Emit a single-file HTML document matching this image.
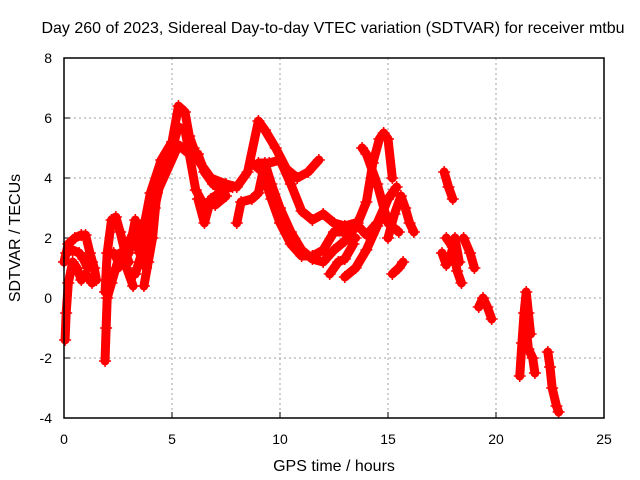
<!DOCTYPE html>
<html><head><meta charset="utf-8"><style>
body{margin:0;background:#fff;}
svg{display:block;font-family:"Liberation Sans",sans-serif;}
</style></head><body>
<svg id="chart" width="640" height="480" viewBox="0 0 640 480">
<text x="333" y="33" font-size="16" text-anchor="middle">Day 260 of 2023, Sidereal Day-to-day VTEC variation (SDTVAR) for receiver mtbu</text>
<text x="334" y="471" font-size="16" text-anchor="middle">GPS time / hours</text>
<text transform="translate(20,238) rotate(-90)" font-size="16" text-anchor="middle">SDTVAR / TECUs</text>
<g id="grid"></g><g id="ticks"></g><g id="marks"></g>
<rect x="64" y="58" width="540" height="360" fill="none" stroke="#000" stroke-width="1.5"/>
</svg>
<script>
const xTicks=[0,5,10,15,20,25];
const yTicks=[-4,-2,0,2,4,6,8];
const trackA=[[0,1.2],[0.2,1.8],[0.5,2.0],[0.8,2.1],[1.0,2.1],[1.2,1.5],[1.4,1.0],[1.5,0.6]];
const trackB=[[0.05,-1.4],[0.1,-0.5],[0.2,0.5],[0.4,1.2],[0.6,1.0],[0.8,0.6],[1.0,0.8],[1.3,0.5]];
const trackA2=[[0.1,1.5],[0.4,1.6],[0.7,1.5],[0.9,1.3],[1.1,1.0],[1.3,1.2]];
const trackC=[[1.9,-2.1],[1.95,-1],[2.0,0],[2.2,0.5],[2.4,1.0],[2.6,1.5],[2.9,1.0],[3.2,0.4]];
const trackD=[[1.9,0.2],[2.0,1.5],[2.2,2.6],[2.4,2.7],[2.6,2.2],[2.8,1.6],[3.0,1.2]];
const trackD2=[[2.3,1.5],[2.6,1.1],[2.9,1.8],[3.2,2.1],[3.5,1.5],[3.8,1.0]];
const trackE=[[2.5,1.0],[3.0,1.5],[3.3,2.6],[3.6,2.0],[4.0,3.5],[4.5,4.6],[5.0,5.2],[5.3,6.4],[5.6,6.2],[5.8,5.4],[6.0,5.0],[6.3,4.5],[6.8,4.0],[7.5,3.8],[8.0,3.7],[8.5,4.2],[9.0,5.9],[9.3,5.6],[9.8,5.0],[10.3,4.3],[10.8,4.0],[11.3,4.2],[11.8,4.6]];
const trackF=[[3.3,0.8],[3.6,1.5],[3.9,2.2],[4.2,3.0],[4.5,4.0],[5.0,5.0],[5.3,5.7],[5.6,5.6],[5.8,4.8],[6.1,3.6],[6.4,3.2],[7.0,3.1],[7.5,3.4]];
const trackG=[[3.7,0.4],[3.9,1.2],[4.1,2.0],[4.3,3.5],[5.3,5.1],[5.8,4.8],[6.2,4.8],[6.5,4.2],[6.9,3.8],[7.3,3.6],[7.8,3.7]];
const trackH=[[6.2,3.3],[6.5,2.5],[6.8,3.3],[7.2,3.5]];
const trackI=[[8.0,2.5],[8.2,3.2],[8.7,3.3],[9.0,3.5],[9.3,4.5],[9.6,3.8],[10.0,3.0],[10.5,2.2],[11.0,1.6],[11.5,1.3],[12.0,1.2],[12.5,1.6],[13.0,1.9],[13.3,2.2],[13.6,2.5],[14.0,3.2],[14.3,4.5],[14.6,5.3],[14.8,5.5],[15.0,5.3],[15.2,4.0]];
const trackJ=[[9.0,4.5],[9.5,4.5],[10.0,4.6],[10.5,3.8],[11.0,2.9],[11.5,2.6],[12.0,2.8],[12.5,2.5],[13.0,2.4],[13.5,2.5],[14.0,2.1],[14.5,2.5],[15.0,3.3],[15.4,3.7]];
const trackK=[[8.7,4.5],[9.2,4.2],[9.6,3.3],[10.0,2.5],[10.5,1.8],[11.0,1.4],[11.5,1.4],[12.0,1.6],[12.5,2.2],[13.0,2.2],[13.5,2.0]];
const trackL=[[12.3,0.8],[12.7,1.2],[13.0,1.3],[13.4,1.8]];
const trackM=[[13.0,0.7],[13.5,1.0],[14.0,1.6],[14.5,2.4],[15.0,3.3],[15.3,3.6]];
const trackN=[[13.8,5.0],[14.0,4.8],[14.5,3.8],[15.0,2.5],[15.5,2.2]];
const trackN2=[[15.0,2.0],[15.3,2.8],[15.6,3.4],[15.8,3.0],[16.0,2.5],[16.2,2.2]];
const trackO=[[15.2,0.8],[15.5,1.0],[15.7,1.2]];
const trackP=[[17.6,4.2],[17.8,3.7],[18.0,3.3]];
const trackQ=[[17.7,2.0],[18.0,1.7],[18.2,0.9],[18.4,0.5]];
const trackQ2=[[17.5,1.5],[17.7,1.1],[17.9,1.4],[18.1,2.0],[18.3,1.2]];
const trackR=[[18.5,2.0],[18.8,1.5],[19.0,1.0]];
const trackS=[[19.2,-0.3],[19.4,0],[19.6,-0.3],[19.8,-0.7]];
const trackT=[[21.1,-2.6],[21.2,-1.5],[21.3,-0.5],[21.4,0.2],[21.5,-0.5],[21.6,-1.2]];
const trackU=[[21.4,-1.0],[21.5,-1.7],[21.7,-2.0],[21.8,-2.5]];
const trackV=[[22.4,-1.8],[22.5,-2.3],[22.6,-3.0],[22.8,-3.6],[22.9,-3.8]];
const tracks=[trackA,trackB,trackA2,trackC,trackD,trackD2,trackE,trackF,trackG,trackH,trackI,trackJ,trackK,trackL,trackM,trackN,trackN2,trackO,trackP,trackQ,trackQ2,trackR,trackS,trackT,trackU,trackV];

const NS="http://www.w3.org/2000/svg";
const X=h=>64+h*21.6, Y=v=>298-v*30;
const grid=document.getElementById('grid'), ticks=document.getElementById('ticks'), marks=document.getElementById('marks');
function mk(tag,attrs,parent){const e=document.createElementNS(NS,tag);for(const k in attrs)e.setAttribute(k,attrs[k]);parent.appendChild(e);return e;}
xTicks.forEach(t=>{
  const x=X(t);
  if(t>0&&t<25){const g=mk('line',{x1:x,y1:58,x2:x,y2:418,stroke:'#a0a0a0','stroke-dasharray':'2,3'},grid);
  
  }
  mk('line',{x1:x,y1:418,x2:x,y2:412,stroke:'#000'},ticks);
  const l=mk('text',{x:x,y:444,'font-size':14,'text-anchor':'middle'},ticks);l.textContent=t;
  
  
});
yTicks.forEach(t=>{
  const y=Y(t);
  if(t>-4&&t<8){const g=mk('line',{x1:64,y1:y,x2:604,y2:y,stroke:'#a0a0a0','stroke-dasharray':'2,3'},grid);
  
  }
  mk('line',{x1:64,y1:y,x2:70,y2:y,stroke:'#000'},ticks);
  const l=mk('text',{x:52,y:y+5,'font-size':14,'text-anchor':'end'},ticks);l.textContent=t;
  
  
});
tracks.forEach(tr=>{
  const p=mk('polyline',{points:tr.map(d=>X(d[0])+','+Y(d[1])).join(' '),fill:'none',stroke:'#ff0000','stroke-width':9,'stroke-linejoin':'round','stroke-linecap':'round'},marks);
  
  
  tr.forEach(d=>{
    const x=X(d[0]),y=Y(d[1]);
    const m=mk('path',{d:`M${x-6},${y}H${x+6}M${x},${y-6}V${y+6}`,stroke:'#ff0000','stroke-width':1.5},marks);
    
    
  });
});
</script>
</body></html>
